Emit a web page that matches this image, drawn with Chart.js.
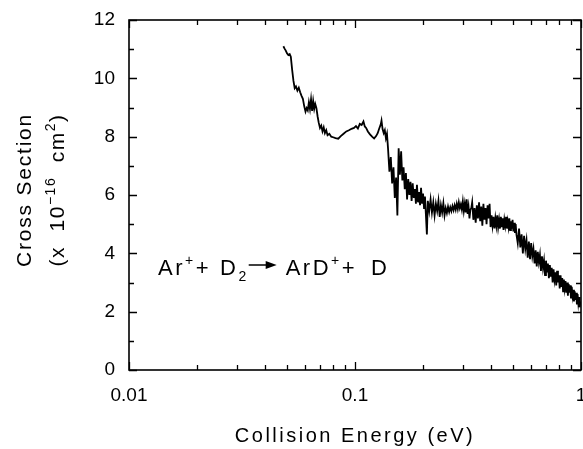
<!DOCTYPE html>
<html>
<head>
<meta charset="utf-8">
<script src="https://cdn.jsdelivr.net/npm/chart.js@4.4.0/dist/chart.umd.min.js"></script>
<style>
  body { margin: 0; background: #fff; }
  #wrap { width: 583px; height: 449px; }
</style>
</head>
<body>
<div id="wrap"><canvas id="chart"></canvas></div>
<script>
// Collision energy (eV)
const energy = [
    0.0482, 0.0488, 0.0494, 0.0500, 0.0507, 0.0514, 0.0520, 0.0527, 0.0534, 0.0541,
    0.0548, 0.0556, 0.0564, 0.0572, 0.0580, 0.0588, 0.0596, 0.0604, 0.0611, 0.0618,
    0.0625, 0.0632, 0.0639, 0.0646, 0.0653, 0.0660, 0.0667, 0.0675, 0.0683, 0.0691,
    0.0700, 0.0709, 0.0718, 0.0727, 0.0736, 0.0746, 0.0756, 0.0770, 0.0785, 0.0800,
    0.0820, 0.0843, 0.0865, 0.0890, 0.0915, 0.0940, 0.0965, 0.0990, 0.1010, 0.1030,
    0.1050, 0.1070, 0.1090, 0.1105, 0.1120, 0.1140, 0.1165, 0.1190, 0.1215, 0.1240,
    0.1260, 0.1280, 0.1300, 0.1310, 0.1325, 0.1340, 0.1355, 0.1370, 0.1385, 0.1400,
    0.142, 0.144, 0.146, 0.148, 0.150, 0.152, 0.154, 0.156, 0.158, 0.160,
    0.162, 0.164, 0.166, 0.168, 0.170, 0.172, 0.174, 0.176, 0.178, 0.180,
    0.182, 0.184, 0.186, 0.188, 0.190, 0.192, 0.194, 0.196, 0.198, 0.200,
    0.202, 0.204, 0.206, 0.208, 0.210,
    0.213, 0.216, 0.219, 0.222, 0.225, 0.228, 0.231, 0.234, 0.237, 0.240,
    0.243, 0.246, 0.249, 0.252, 0.255, 0.258, 0.261, 0.264, 0.267, 0.270,
    0.273, 0.276, 0.279, 0.282, 0.285, 0.288, 0.291, 0.294, 0.297, 0.300,
    0.303, 0.306, 0.309, 0.312, 0.315, 0.318, 0.321, 0.324, 0.327, 0.330,
    0.334, 0.338, 0.342, 0.346, 0.350, 0.354, 0.358, 0.362, 0.366, 0.370,
    0.374, 0.378, 0.382, 0.386, 0.390, 0.394, 0.398, 0.402, 0.406, 0.410,
    0.414, 0.418, 0.422, 0.426, 0.430, 0.434, 0.438, 0.442, 0.446, 0.450,
    0.454, 0.458, 0.462, 0.466, 0.470, 0.474, 0.478, 0.482, 0.486, 0.490,
    0.494, 0.498, 0.502, 0.506, 0.510, 0.514, 0.518,
    0.525, 0.532, 0.539, 0.546, 0.553, 0.560, 0.567, 0.574, 0.581, 0.588,
    0.595, 0.602, 0.609, 0.616, 0.623, 0.630, 0.637, 0.644, 0.651, 0.658,
    0.665, 0.672, 0.679, 0.686, 0.693, 0.700, 0.707, 0.714, 0.721, 0.728,
    0.735, 0.742, 0.749, 0.756, 0.763, 0.770, 0.777, 0.784, 0.791, 0.798,
    0.805, 0.812, 0.819, 0.826, 0.833, 0.840, 0.847, 0.854, 0.861, 0.868,
    0.875, 0.882, 0.889, 0.896, 0.903, 0.910, 0.917, 0.924, 0.931, 0.938,
    0.945, 0.952, 0.959, 0.966, 0.973, 0.980, 0.987, 0.994
];

// Cross section (x 10^-16 cm^2), same order as energy
const crossSection = [
    11.10, 11.02, 10.95, 10.86, 10.80, 10.83, 10.74, 10.30, 9.92, 9.66,
    9.72, 9.58, 9.68, 9.52, 9.40, 9.30, 9.05, 8.86, 8.98, 8.90,
    9.18, 8.95, 9.28, 8.88, 9.22, 8.95, 9.12, 8.98, 8.70, 8.48,
    8.30, 8.38, 8.18, 8.32, 8.12, 8.22, 8.05, 8.10, 8.00, 7.98,
    7.95, 7.93, 8.02, 8.10, 8.18, 8.22, 8.27, 8.30, 8.36, 8.28,
    8.44, 8.40, 8.52, 8.35, 8.30, 8.18, 8.08, 8.00, 7.94, 8.02,
    8.12, 8.28, 8.42, 8.55, 8.25, 8.12, 8.22, 7.95, 8.10, 7.60,
    6.80, 7.30, 6.40, 6.95, 5.90, 6.60, 5.30, 7.60, 6.70, 7.50,
    6.50, 6.95, 6.20, 6.75, 5.85, 6.55, 6.00, 6.45, 5.80, 6.40,
    5.90, 6.20, 5.70, 6.35, 5.75, 6.10, 5.65, 6.25, 5.70, 6.05,
    5.55, 5.95, 5.30, 4.65, 5.80,
    5.45, 5.85, 5.40, 5.75, 5.30, 5.70, 5.45, 5.80, 5.25, 5.65,
    5.40, 5.72, 5.30, 5.55, 5.38, 5.60, 5.42, 5.58, 5.45, 5.62,
    5.48, 5.65, 5.50, 5.70, 5.52, 5.75, 5.55, 5.68, 5.50, 5.78,
    5.45, 5.70, 5.40, 5.85, 5.35, 5.60, 5.20, 5.50, 5.55, 5.75,
    5.15, 5.55, 5.05, 5.65, 5.20, 5.75, 5.10, 5.60, 4.95, 5.70,
    5.15, 5.55, 5.00, 5.65, 5.20, 5.70, 4.90, 5.30, 4.95, 5.25,
    4.85, 5.20, 4.95, 5.30, 4.90, 5.15, 4.85, 5.25, 4.90, 5.20,
    4.80, 5.15, 4.95, 5.25, 4.85, 5.10, 4.90, 5.20, 4.80, 5.10,
    4.85, 5.15, 4.75, 5.05, 4.70, 5.00, 4.65,
    4.35, 4.85, 4.20, 4.65, 4.00, 4.60, 4.15, 4.45, 3.85, 4.40,
    3.80, 4.35, 3.90, 4.15, 3.65, 4.10, 3.55, 4.05, 3.70, 3.95,
    3.40, 3.90, 3.50, 3.75, 3.25, 3.75, 3.35, 3.65, 3.15, 3.60,
    3.20, 3.50, 3.00, 3.45, 3.10, 3.35, 2.90, 3.40, 3.00, 3.25,
    2.80, 3.25, 2.85, 3.15, 2.70, 3.10, 2.80, 3.05, 2.65, 3.00,
    2.55, 2.95, 2.65, 2.90, 2.45, 2.85, 2.55, 2.75, 2.35, 2.70,
    2.40, 2.65, 2.25, 2.60, 2.30, 2.50, 2.15, 2.35
];

// Axis labels
const xTickLabels = [0.01, 0.1, 1];
const yTickLabels = [0, 2, 4, 6, 8, 10, 12];
const xDecades = [0.01, 0.1];

const FONT = '"Liberation Sans", Arial, Helvetica, sans-serif';

const points = energy.map((e, i) => ({ x: e, y: crossSection[i] }));

// Frame, inward ticks, axis titles and the reaction label
const inkPlugin = {
    id: 'ink',
    afterDraw(chart) {
        const ctx = chart.ctx;
        const a = chart.chartArea;
        const xs = chart.scales.x;
        const ys = chart.scales.y;
        ctx.save();
        ctx.strokeStyle = '#000';
        ctx.lineWidth = 1.6;
        ctx.strokeRect(a.left, a.top, a.right - a.left, a.bottom - a.top);

        ctx.lineWidth = 1.3;
        ctx.beginPath();
        const xTick = (v, len) => {
            const px = Math.round(xs.getPixelForValue(v)) + 0.5;
            ctx.moveTo(px, a.bottom); ctx.lineTo(px, a.bottom - len);
            ctx.moveTo(px, a.top); ctx.lineTo(px, a.top + len);
        };
        xDecades.forEach(d => {
            for (let k = 1; k <= 9; k++) xTick(k * d, k === 1 ? 8 : 5);
        });
        xTick(1, 8);
        ys.ticks.forEach(t => {
            const py = Math.round(ys.getPixelForValue(t.value)) + 0.5;
            const len = yTickLabels.includes(t.value) ? 8 : 5;
            ctx.moveTo(a.left, py); ctx.lineTo(a.left + len, py);
            ctx.moveTo(a.right, py); ctx.lineTo(a.right - len, py);
        });
        ctx.stroke();

        ctx.fillStyle = '#000';
        // x title
        ctx.font = '20px ' + FONT;
        ctx.letterSpacing = '2.5px';
        ctx.textAlign = 'center';
        ctx.textBaseline = 'alphabetic';
        ctx.fillText('Collision Energy (eV)', (a.left + a.right) / 2, 442);

        // y title, two rotated lines
        ctx.save();
        ctx.translate(31, 190);
        ctx.rotate(-Math.PI / 2);
        ctx.font = '21px ' + FONT;
        ctx.letterSpacing = '1.8px';
        ctx.fillText('Cross Section', 0, 0);
        ctx.restore();

        ctx.save();
        ctx.translate(64, 190);
        ctx.rotate(-Math.PI / 2);
        ctx.textAlign = 'left';
        const parts = [
            { t: '(x  10', size: 21, dy: 0 },
            { t: '\u221216', size: 14, dy: -9 },
            { t: '  cm', size: 21, dy: 0 },
            { t: '2', size: 14, dy: -9 },
            { t: ')', size: 21, dy: 0 }
        ];
        ctx.letterSpacing = '1.5px';
        let w = 0;
        parts.forEach(p => { ctx.font = p.size + 'px ' + FONT; w += ctx.measureText(p.t).width; });
        let cx = -w / 2;
        parts.forEach(p => {
            ctx.font = p.size + 'px ' + FONT;
            ctx.fillText(p.t, cx, p.dy);
            cx += ctx.measureText(p.t).width;
        });
        ctx.restore();

        // reaction label, laid out piece by piece
        ctx.textAlign = 'left';
        ctx.letterSpacing = '2.5px';
        const base = 275;
        const big = '22px ' + FONT;
        const small = '14px ' + FONT;
        let rx = 158;
        const put = (t, dy, f, gapAfter) => {
            ctx.font = f;
            ctx.fillText(t, rx, base + dy);
            rx += ctx.measureText(t).width + (gapAfter || 0);
        };
        put('Ar', 0, big);
        put('+', -10, small);
        put('+', 0, big, 9);
        put('D', 0, big);
        put('2', 6, small);
        // arrow
        ctx.lineWidth = 1.5;
        ctx.beginPath();
        ctx.moveTo(rx, 265); ctx.lineTo(rx + 20, 265);
        ctx.stroke();
        ctx.beginPath();
        ctx.moveTo(rx + 28, 265); ctx.lineTo(rx + 17, 261); ctx.lineTo(rx + 17, 269); ctx.closePath();
        ctx.fill();
        rx += 37;
        put('ArD', 0, big);
        put('+', -10, small);
        put('+', 0, big, 14);
        put('D', 0, big);
        ctx.restore();
    }
};

new Chart(document.getElementById('chart'), {
    type: 'line',
    data: {
        datasets: [{
            data: points,
            borderColor: '#000',
            borderWidth: 1.8,
            pointRadius: 0,
            tension: 0,
            fill: false
        }]
    },
    options: {
        responsive: true,
        maintainAspectRatio: false,
        animation: false,
        events: [],
        layout: { padding: { top: 20, right: 2, left: 0, bottom: 0 } },
        plugins: { legend: { display: false }, tooltip: { enabled: false } },
        scales: {
            x: {
                type: 'logarithmic',
                min: 0.01,
                max: 1,
                grid: { display: false, drawTicks: false },
                border: { display: false },
                ticks: {
                    autoSkip: false,
                    maxRotation: 0,
                    padding: 14,
                    color: '#000',
                    font: { family: FONT, size: 19 },
                    callback: v => (xTickLabels.includes(v) ? String(v) : '')
                },
                afterFit: s => { s.height = 79; s.paddingLeft = 0; s.paddingRight = 0; }
            },
            y: {
                min: 0,
                max: 12,
                grid: { display: false, drawTicks: false },
                border: { display: false },
                ticks: {
                    stepSize: 1,
                    autoSkip: false,
                    padding: 14,
                    color: '#000',
                    font: { family: FONT, size: 19 },
                    callback: v => (yTickLabels.includes(v) ? String(v) : '')
                },
                afterFit: s => { s.width = 129; s.paddingTop = 0; s.paddingBottom = 0; }
            }
        }
    },
    plugins: [inkPlugin]
});
</script>
</body>
</html>
